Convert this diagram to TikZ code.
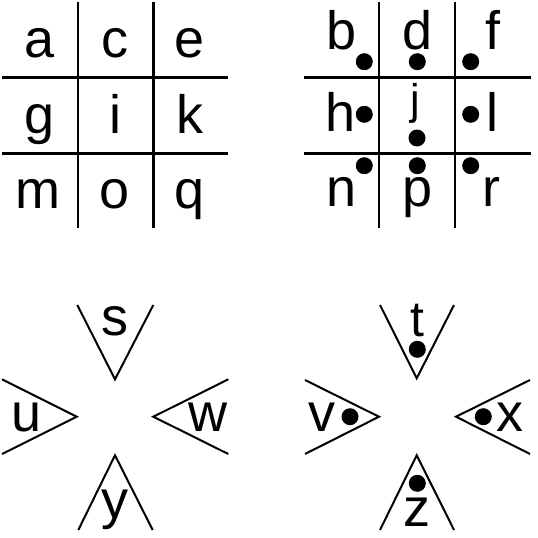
\documentclass[tikz,border=0pt]{standalone}
\usepackage{fontspec}
\setmainfont{Liberation Sans}
\begin{document}
\begin{tikzpicture}[x=1pt,y=-1pt,
  grid/.style={line width=2.6pt},
  vee/.style={line width=2pt},
  letter/.style={anchor=base,inner sep=0pt,font=\fontsize{54}{60}\selectfont},
  dotmark/.style={fill=black,draw=none}]
\useasboundingbox (0,0) rectangle (538,538);
% top-left grid
\draw[grid] (78,2) -- (78,228) (153.3,2) -- (153.3,228)
            (2,77.7) -- (228.3,77.7) (2,153.3) -- (228.3,153.3);
\node[letter] (a) at (40,57) {a};
\node[letter] (c) at (115,57) {c};
\node[letter] (e) at (190,57) {e};
\node[letter] (g) at (40,133) {g};
\node[letter] (i) at (115,133) {i};
\node[letter] (k) at (190,133) {k};
\node[letter] (m) at (38,208) {m};
\node[letter] (o) at (115,208) {o};
\node[letter] (q) at (190,208) {q};
% top-right grid
\draw[grid] (379,2) -- (379,228) (455,2) -- (455,228)
            (304,77.3) -- (530.7,77.3) (304,153.3) -- (530.7,153.3);
\node[letter] (b) at (341.7,49.5) {b};
\node[letter] (d) at (418,49.5) {d};
\node[letter] (f) at (492.7,49.5) {f};
\node[letter] (h) at (340.7,131.7) {h};
\node[letter,font=\fontsize{43}{48}\selectfont] (j) at (415,114) {j};
\node[letter] (l) at (492.7,131.7) {l};
\node[letter] (n) at (341.7,206.7) {n};
\node[letter] (p) at (418,206.7) {p};
\node[letter] (r) at (491.7,206.7) {r};
\foreach \px/\py in {364.3/61.7,417.3/61.7,470.7/61.7,364.3/114.3,470.7/114.3,417/138,364.3/165.7,417.3/165.7,470.7/165.7}
  \fill[dotmark] (\px,\py) circle (8.5);
% bottom-left X
\coordinate (s1) at (77.3,305); \coordinate (s0) at (115,379.3); \coordinate (s2) at (153.3,305);
\coordinate (u1) at (2,379.3); \coordinate (u0) at (76.7,416.7); \coordinate (u2) at (2,454);
\coordinate (w1) at (228.3,379.3); \coordinate (w0) at (153.3,416.7); \coordinate (w2) at (228.3,454);
\coordinate (y0) at (115,455.3); \coordinate (y1) at (78.3,530); \coordinate (y2) at (152.7,530);
\draw[vee] (s1) -- (s0) -- (s2);
\draw[vee] (u1) -- (u0) -- (u2);
\draw[vee] (w1) -- (w0) -- (w2);
\draw[vee] (y1) -- (y0) -- (y2);
\node[letter] (s) at (115,335) {s};
\node[letter] (u) at (26.7,431.7) {u};
\node[letter] (w) at (208.3,431.7) {w};
\node[letter] (y) at (115,518) {y};
% bottom-right X
\coordinate (t1) at (380,305); \coordinate (t0) at (416.7,378.3); \coordinate (t2) at (454,305);
\coordinate (v1) at (305,380); \coordinate (v0) at (379,416.7); \coordinate (v2) at (305,454);
\coordinate (x1) at (530,380); \coordinate (x0) at (456,416.7); \coordinate (x2) at (530,454);
\coordinate (z0) at (416.7,455.3); \coordinate (z1) at (380,530); \coordinate (z2) at (454,530);
\draw[vee] (t1) -- (t0) -- (t2);
\draw[vee] (v1) -- (v0) -- (v2);
\draw[vee] (x1) -- (x0) -- (x2);
\draw[vee] (z1) -- (z0) -- (z2);
\node[letter,font=\fontsize{50}{56}\selectfont] (t) at (417,336) {t};
\node[letter] (v) at (321.7,431.7) {v};
\node[letter] (x) at (510,431.7) {x};
\node[letter] (z) at (417,526.7) {z};
\foreach \px/\py in {417.3/349.3,350/416.7,483.3/416.7,417.3/483.3}
  \fill[dotmark] (\px,\py) circle (8.5);
\end{tikzpicture}
\end{document}
